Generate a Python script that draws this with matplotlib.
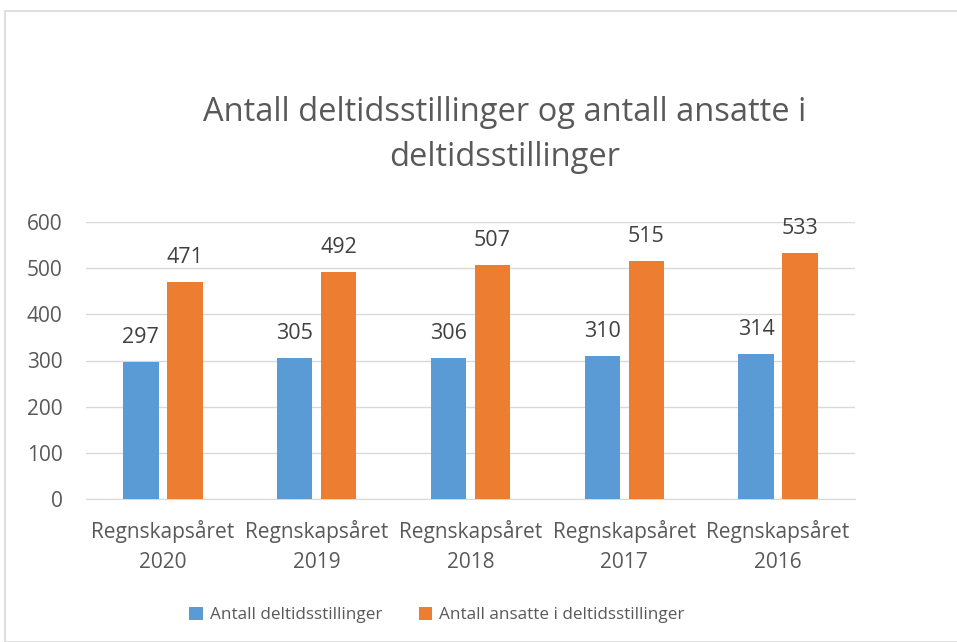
import matplotlib.pyplot as plt
import numpy as np
from matplotlib.patches import Rectangle

categories = ["Regnskapsåret\n2020", "Regnskapsåret\n2019", "Regnskapsåret\n2018",
              "Regnskapsåret\n2017", "Regnskapsåret\n2016"]
deltid = [297, 305, 306, 310, 314]
ansatte = [471, 492, 507, 515, 533]
series_names = ["Antall deltidsstillinger", "Antall ansatte i deltidsstillinger"]
title = "Antall deltidsstillinger og antall ansatte i\ndeltidsstillinger"

plt.rcParams['font.family'] = ['Open Sans', 'DejaVu Sans']
txt = '#595959'
grid = '#d9d9d9'

fig = plt.figure(figsize=(9.57, 6.42), dpi=100)
fig.patches.append(Rectangle((5/957, 0), 1.0, 1 - 11/642, transform=fig.transFigure,
                             fill=False, edgecolor=grid, linewidth=1.2))
ax = fig.add_axes([86/957, 1 - 499/642, 769/957, 277/642])

x = np.arange(len(categories))
w = 0.23
off = 0.143
b1 = ax.bar(x - off, deltid, w, color='#5b9bd5', label=series_names[0], zorder=3)
b2 = ax.bar(x + off, ansatte, w, color='#ed7d31', label=series_names[1], zorder=3)
for bars, vals in ((b1, deltid), (b2, ansatte)):
    for r, v in zip(bars, vals):
        ax.annotate(str(v), (r.get_x() + r.get_width()/2, v), xytext=(0, 10),
                    textcoords='offset points', ha='center', va='bottom',
                    fontsize=15.5, color='#404040')

ax.set_xlim(-0.5, len(categories) - 0.5)
ax.set_ylim(0, 600)
ax.set_yticks(range(0, 601, 100))
ax.grid(axis='y', color=grid, linewidth=1, zorder=0)
ax.set_xticks(x)
ax.set_xticklabels(categories, fontsize=15, color=txt, linespacing=1.55)
ax.tick_params(axis='y', labelsize=15, labelcolor=txt, length=0, pad=17)
ax.tick_params(axis='x', length=0, pad=15)
for s in ['top', 'right', 'left']:
    ax.spines[s].set_visible(False)
ax.spines['bottom'].set_color(grid)

fig.text(505/957, 1 - 135/642, title, ha='center', va='center', fontsize=23.5,
         color=txt, linespacing=1.5)

fig.legend(loc='center', bbox_to_anchor=(437/957, 1 - 615/642), ncol=2, frameon=False,
           fontsize=12.3, labelcolor=txt, handlelength=0.8, handleheight=0.8,
           handletextpad=0.4, columnspacing=2.13)

fig.savefig('out.png', dpi=100)
